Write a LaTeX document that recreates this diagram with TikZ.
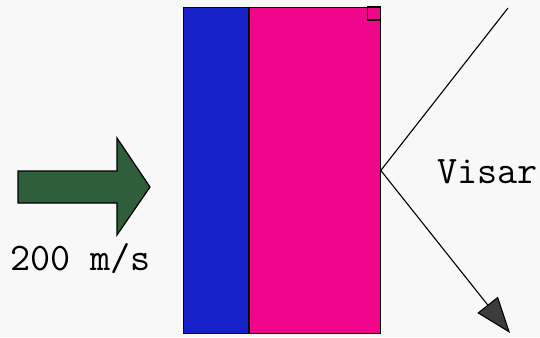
\documentclass[tikz,border=0pt]{standalone}
\usepackage{xcolor}
\definecolor{paper}{RGB}{248,248,248}
\definecolor{flyerblue}{RGB}{22,32,200}
\definecolor{targetpink}{RGB}{240,6,138}
\definecolor{pushgreen}{RGB}{46,94,58}
\definecolor{tipgray}{RGB}{60,60,60}
\usetikzlibrary{arrows.meta,positioning}

\tikzset{
  layer/.style={rectangle, draw=black, line width=0.9pt, inner sep=0pt, anchor=north west},
  beam/.style={line width=1.1pt},
  labeltext/.style={font=\fontsize{39}{41}\selectfont\ttfamily, inner sep=0pt, anchor=base west}
}

\begin{document}
\begin{tikzpicture}[x=1pt, y=-1pt]
  \fill[paper] (0,0) rectangle (540,337);
  \useasboundingbox (0,0) rectangle (540,337);

  % impactor push
  \draw[fill=pushgreen, line width=1.2pt, line join=miter]
    (18,171) -- (117,171) -- (117,138) -- (150,187) -- (117,235) -- (117,203) -- (18,203) -- cycle;
  \node[labeltext] (speed) at (10,270) {200 m/s};

  % flyer and target
  \node[layer, fill=flyerblue, minimum width=65pt, minimum height=326pt] (flyer) at (183,7) {};
  \node[layer, fill=targetpink, minimum width=131pt, minimum height=326pt] (target) at (flyer.north east) {};
  \node[rectangle, draw=black, line width=1.6pt, minimum width=13pt, minimum height=13pt, inner sep=0pt,
        anchor=north east] (probe) at ([xshift=0.6pt, yshift=0.6pt]target.north east) {};

  % laser
  \coordinate (beamin) at (508,8);
  \coordinate (beamout) at (510,333);
  \draw[beam] (beamin) -- (target.east);
  \draw[beam, -{Triangle[length=36pt, width=26pt, fill=tipgray]}] (target.east) -- (beamout);
  \node[labeltext] (visar) at (437,183) {Visar};
\end{tikzpicture}
\end{document}
